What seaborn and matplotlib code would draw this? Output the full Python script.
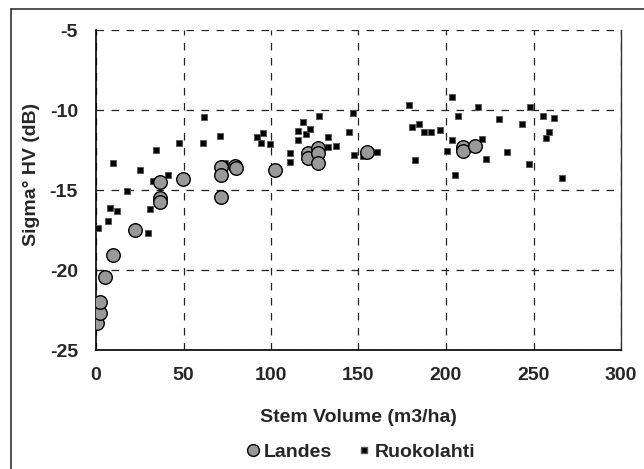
"""
Sigma° HV backscatter versus stem volume, Landes and Ruokolahti test sites.
"""

import pandas as pd
import matplotlib
matplotlib.use("Agg")
import matplotlib.pyplot as plt
from matplotlib.lines import Line2D
import seaborn as sns


# =============================================================================
# DATA
# =============================================================================

landes_volume = [0.6, 2.1, 2.1, 5.0, 9.7, 22.1, 36.4, 36.4, 36.4, 49.7,
                 71.2, 71.2, 71.2, 79.4, 80.0, 102.3, 121.3, 121.3, 127.0,
                 127.0, 127.0, 154.7, 209.5, 209.5, 216.6]
landes_sigma = [-23.33, -22.67, -21.98, -20.42, -19.06, -17.5, -14.48, -15.52,
                -15.73, -14.33, -13.54, -14.06, -15.42, -13.5, -13.65, -13.75,
                -12.71, -13.02, -12.4, -12.71, -13.29, -12.65, -12.29, -12.56,
                -12.23]

ruoko_volume = [1.1, 6.9, 8.2, 12.2, 9.7, 17.9, 25.0, 29.7, 31.0, 32.6,
                34.1, 41.1, 47.2, 61.4, 61.7, 70.9, 73.7, 91.8, 95.6, 94.1,
                99.4, 110.9, 110.9, 115.2, 115.2, 118.5, 120.0, 122.3, 127.6,
                132.7, 132.7, 137.1, 144.8, 146.7, 147.4, 152.8, 160.8, 178.9,
                180.4, 184.4, 187.6, 191.4, 196.6, 182.3, 203.6, 207.1, 203.6,
                200.6, 205.1, 218.1, 230.3, 243.2, 248.0, 255.6, 261.9, 258.7,
                257.1, 220.4, 235.0, 222.7, 247.6, 266.5]
ruoko_sigma = [-17.4, -16.92, -16.15, -16.31, -13.33, -15.06, -13.75, -17.67,
               -16.19, -14.42, -12.5, -14.06, -12.08, -12.06, -10.46, -11.63,
               -13.33, -11.71, -11.46, -12.04, -12.13, -12.71, -13.23, -11.29,
               -11.88, -10.73, -11.5, -11.21, -10.38, -11.71, -12.29, -12.23,
               -11.4, -10.2, -12.81, -12.88, -12.65, -9.69, -11.04, -10.88,
               -11.4, -11.35, -11.25, -13.13, -9.21, -10.4, -11.88, -12.56,
               -14.06, -9.79, -10.56, -10.88, -9.79, -10.38, -10.48, -11.4,
               -11.73, -11.81, -12.65, -13.06, -13.38, -14.23]

x_ticks = [0, 50, 100, 150, 200, 250, 300]
y_ticks = [-25, -20, -15, -10, -5]

landes = pd.DataFrame({"volume": landes_volume, "sigma": landes_sigma})
ruoko = pd.DataFrame({"volume": ruoko_volume, "sigma": ruoko_sigma})


# =============================================================================
# STYLE
# =============================================================================

sns.set_style("white")
plt.rcParams["font.family"] = ["Liberation Sans", "DejaVu Sans"]
plt.rcParams["font.weight"] = "bold"

FS = 14
W, H = 644, 469


# =============================================================================
# PLOT
# =============================================================================

fig = plt.figure(figsize=(W / 100, H / 100), dpi=100)
ax = fig.add_axes([96 / W, 1 - 350 / H, 525 / W, 320 / H])

sns.scatterplot(
    data=ruoko, x="volume", y="sigma", ax=ax,
    marker="s", s=24, color="black", edgecolor="#555555", linewidth=0.6,
    zorder=3
)
sns.scatterplot(
    data=landes, x="volume", y="sigma", ax=ax,
    marker="o", s=95, color="#999999", edgecolor="black", linewidth=1.0,
    zorder=4
)

ax.set_xlim(0, 300)
ax.set_ylim(-25, -5)
ax.set_xticks(x_ticks)
ax.set_yticks(y_ticks)
ax.set_xticklabels([str(t) for t in x_ticks], fontsize=FS, fontweight="bold")
ax.set_yticklabels([str(t) for t in y_ticks], fontsize=FS, fontweight="bold")

ax.tick_params(axis="both", direction="out", length=4.5, width=1,
               color="black")
ax.tick_params(axis="x", pad=8)
ax.tick_params(axis="y", pad=8.5)

ax.grid(True, color="#222222", linestyle=(0, (6, 6)), linewidth=0.9)
ax.set_axisbelow(True)

for side in ["left", "bottom"]:
    ax.spines[side].set_color("black")
    ax.spines[side].set_linewidth(1.2)
ax.spines["top"].set_visible(False)
ax.spines["right"].set_color("#333333")
ax.spines["right"].set_linewidth(1.0)

ax.set_xlabel("")
ax.set_ylabel("")
fig.text(358 / W, 1 - 417 / H, "Stem Volume (m3/ha)", fontsize=FS,
         fontweight="bold", ha="center", va="center")
fig.text(31 / W, 1 - 174 / H, "Sigma° HV (dB)", fontsize=FS,
         fontweight="bold", ha="center", va="center", rotation=90)

# legend below the x label
handles = [
    Line2D([], [], marker="o", linestyle="", markersize=8.5,
           markerfacecolor="#999999", markeredgecolor="black"),
    Line2D([], [], marker="s", linestyle="", markersize=4.2,
           markerfacecolor="black", markeredgecolor="#555555"),
]
fig.legend(handles, ["Landes", "Ruokolahti"], loc="center",
           bbox_to_anchor=(360 / W, 1 - 452 / H), ncol=2, frameon=False,
           prop={"size": FS, "weight": "bold"}, handletextpad=0.1,
           columnspacing=1.2, handlelength=0.9, borderpad=0)

# outer chart frame (left and top edges visible)
fig.add_artist(Line2D([11 / W, 11 / W], [0, 1 - 9 / H],
                      transform=fig.transFigure, color="#333333", lw=1.2))
fig.add_artist(Line2D([11 / W, 1], [1 - 9 / H, 1 - 9 / H],
                      transform=fig.transFigure, color="#333333", lw=1.2))

fig.savefig("out.png", dpi=100)
